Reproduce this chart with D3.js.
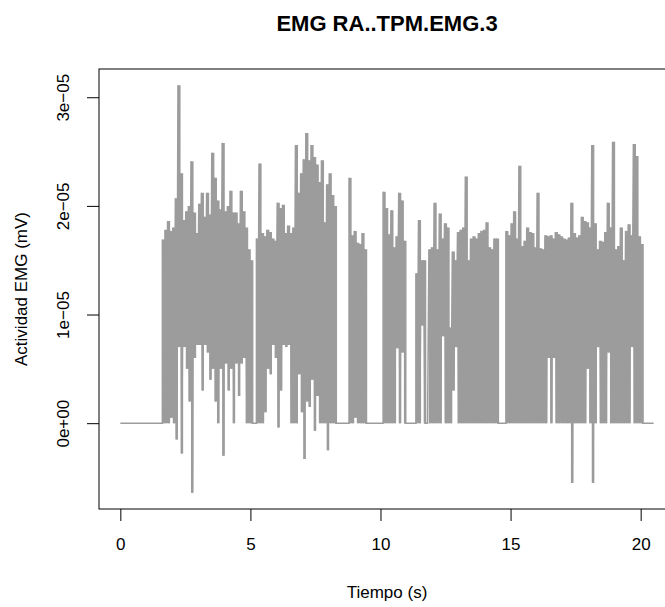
<!DOCTYPE html>
<html>
<head>
<meta charset="utf-8">
<script src="https://cdn.jsdelivr.net/npm/d3@7"></script>
<style>
  body { margin: 0; background: #fff; }
  text { font-family: "Liberation Sans", Arial, Helvetica, sans-serif; }
</style>
</head>
<body>
<div id="chart"></div>
<script>
// Values are in units of 1e-05 mV, one high/low pair every 0.1 s inside a burst.
const unit = 1e-5;
const sampleStep = 0.1;
const signalEnd = 20.5;

const burstStart = [1.615, 5.23, 8.79, 10.1, 11.36, 14.82];

const burstHi = [
  [1.69,1.78,1.86,1.77,1.8,2.07,3.11,2.3,1.87,1.95,2.0,2.41,1.94,1.75,2.02,2.12,1.9,2.12,1.92,2.49,2.26,2.05,1.97,2.58,1.95,2.0,2.14,1.94,1.94,1.84,2.14,1.95,1.8,1.6,1.5],
  [1.7,2.39,1.75,1.72,1.78,1.76,1.7,1.68,2.03,1.98,2.01,1.75,1.82,1.75,1.8,2.56,2.12,2.3,2.43,2.67,2.42,2.56,2.45,2.38,2.22,2.42,1.85,2.2,2.3,2.1,2.0],
  [2.26,1.73,1.77,1.66,1.65,1.75,1.6],
  [2.13,1.98,1.74,1.96,1.62,1.72,2.12,2.05,1.68],
  [1.38,1.87,1.5,1.5,0,1.6,1.62,2.03,1.6,1.93,1.7,1.84,1.8,0.88,1.58,1.5,1.76,1.78,1.8,2.27,1.5,1.7,1.72,1.7,1.75,1.77,1.78,1.85,1.62,1.6,1.7,1.7],
  [1.77,1.73,1.84,1.95,1.7,2.37,1.63,1.68,1.8,1.76,1.75,1.62,2.12,1.61,1.6,1.73,1.72,1.73,1.7,1.76,1.74,1.72,1.7,1.69,1.71,2.03,1.75,1.71,1.73,1.9,1.86,1.85,1.8,2.56,1.84,1.6,1.68,1.67,1.76,2.03,1.8,2.59,1.6,1.63,1.8,1.5,1.77,1.83,1.73,2.57,2.46,1.72,1.65]
];

const burstLo = [
  [0,0,0,0.05,0,-0.15,0.7,-0.28,0.7,0.5,0.2,-0.64,0.6,0.72,0.72,0.3,0.72,0.65,0.4,0.5,0.2,0,0.5,-0.3,0.55,0.3,0.5,0,0.55,0.25,0.55,0.6,0,0,0],
  [0,0,0,0.1,0.5,0.45,0.72,0.6,-0.04,0.3,0.72,0.7,0.72,0,0,0,0.45,0.1,-0.33,0.2,0.15,0.4,-0.07,0.25,0,0,0,-0.25,0,0,0],
  [0,0,0.05,0,0,0,0],
  [0,0,0,0,0,0.69,0,0.65,0],
  [0,0,0.9,0,0,0,0,0,0,0,0.8,0,0,0,0.3,0.7,0,0,0,0,0,0,0,0,0,0,0,0,0,0,0,0],
  [0,0,0,0,0,0,0,0,0,0,0,0,0,0,0,0,0.6,0,0.6,0,0,0,0,0,0,-0.55,0,0,0,0,0,0.5,0,-0.55,0,0.7,0,0,0,0.65,0,0,0,0,0,0,0,0,0.7,0,0,0,0]
];

const xTicks = [0, 5, 10, 15, 20];
const yTicks = [0, 1e-5, 2e-5, 3e-5];
const yTickLabels = ["0e+00", "1e\u221205", "2e\u221205", "3e\u221205"];

// build the polyline: flat at zero between bursts, high/low zigzag inside them
const points = [[0, 0]];
burstStart.forEach((t0, b) => {
  points.push([t0, 0]);
  burstHi[b].forEach((h, i) => {
    const t = t0 + i * sampleStep;
    points.push([t, h * unit]);
    points.push([t + sampleStep / 2, burstLo[b][i] * unit]);
  });
  points.push([t0 + burstHi[b].length * sampleStep, 0]);
});
points.push([signalEnd, 0]);

// the dense oscillation inside a bin fills the band between its low and high
const bands = burstStart.map((t0, b) => {
  const rows = burstHi[b].map((h, i) => ({ t: t0 + i * sampleStep, hi: h * unit, lo: burstLo[b][i] * unit }));
  const last = rows[rows.length - 1];
  rows.push({ t: t0 + burstHi[b].length * sampleStep, hi: last.hi, lo: last.lo });
  return rows;
});

const width = 665, height = 607;
const margin = { top: 69, left: 99, right: 675, bottom: 509 };

// R style axis range: data extent plus 4% on each side
function padded(ext) {
  const p = (ext[1] - ext[0]) * 0.04;
  return [ext[0] - p, ext[1] + p];
}

const x = d3.scaleLinear()
  .domain(padded(d3.extent(points, d => d[0])))
  .range([margin.left, margin.right]);

const y = d3.scaleLinear()
  .domain(padded(d3.extent(points, d => d[1])))
  .range([margin.bottom, margin.top]);

const svg = d3.select("#chart").append("svg")
  .attr("width", width)
  .attr("height", height);

const lineColor = "#9c9c9c";

svg.selectAll(".band")
  .data(bands)
  .enter()
  .append("path")
  .attr("class", "band")
  .attr("fill", lineColor)
  .attr("d", d3.area()
    .curve(d3.curveStepAfter)
    .x(d => x(d.t))
    .y0(d => y(d.lo))
    .y1(d => y(d.hi)));

svg.append("path")
  .datum(points)
  .attr("fill", "none")
  .attr("stroke", lineColor)
  .attr("stroke-width", 1.5)
  .attr("d", d3.line().x(d => x(d[0])).y(d => y(d[1])));

svg.append("rect")
  .attr("x", margin.left)
  .attr("y", margin.top)
  .attr("width", margin.right - margin.left)
  .attr("height", margin.bottom - margin.top)
  .attr("fill", "none")
  .attr("stroke", "#000")
  .attr("stroke-width", 1);

const xAxis = svg.append("g")
  .attr("transform", `translate(0,${margin.bottom})`)
  .call(d3.axisBottom(x).tickValues(xTicks).tickSize(12).tickPadding(17).tickFormat(d3.format("d")));
xAxis.select(".domain").remove();
xAxis.selectAll("text").attr("font-size", 17).attr("fill", "#000")
  .attr("font-family", "Liberation Sans, Arial, sans-serif");

const yAxis = svg.append("g")
  .attr("transform", `translate(${margin.left},0)`)
  .call(d3.axisLeft(y).tickValues(yTicks).tickSize(12).tickFormat((d, i) => yTickLabels[i]));
yAxis.select(".domain").remove();
yAxis.selectAll("text")
  .attr("font-size", 17)
  .attr("fill", "#000")
  .attr("font-family", "Liberation Sans, Arial, sans-serif")
  .attr("text-anchor", "middle")
  .attr("x", null)
  .attr("dy", null)
  .attr("transform", "translate(-30,0) rotate(-90)");

svg.append("text")
  .attr("x", (margin.left + margin.right) / 2)
  .attr("y", 31)
  .attr("text-anchor", "middle")
  .attr("font-size", 22)
  .attr("font-weight", "bold")
  .text("EMG RA..TPM.EMG.3");

svg.append("text")
  .attr("x", (margin.left + margin.right) / 2)
  .attr("y", 598)
  .attr("text-anchor", "middle")
  .attr("font-size", 17)
  .text("Tiempo (s)");

svg.append("text")
  .attr("transform", `translate(27,${(margin.top + margin.bottom) / 2}) rotate(-90)`)
  .attr("text-anchor", "middle")
  .attr("font-size", 17)
  .text("Actividad EMG (mV)");
</script>
</body>
</html>
